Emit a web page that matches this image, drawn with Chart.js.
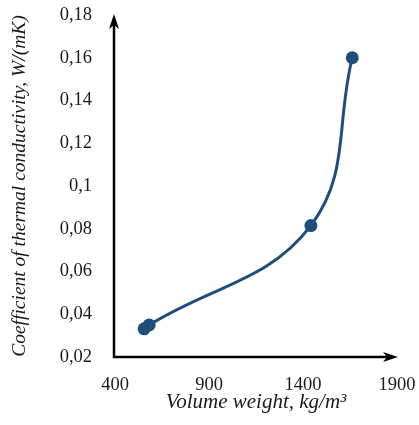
<!DOCTYPE html>
<html>

<head>
  <script src="https://cdn.jsdelivr.net/npm/chart.js@4.4.1/dist/chart.umd.min.js"></script>
  <style>
    body { margin: 0; background: #fff; }
  </style>
</head>

<body>
  <div id="chart" style="position:relative; width:419px; height:425px"></div>
  <script>
    // data
    var volumeWeight = [555, 582, 1442, 1662];
    var conductivity = [0.0332, 0.035, 0.0815, 0.16];
    var xTicks = [400, 900, 1400, 1900];
    var yTicks = [0.02, 0.04, 0.06, 0.08, 0.1, 0.12, 0.14, 0.16, 0.18];

    var blue = '#1f4e79';
    var serif = "'Liberation Serif', 'Times New Roman', serif";

    var points = volumeWeight.map(function (x, i) {
      return { x: x, y: conductivity[i] };
    });

    // black axes with arrow heads
    var arrowAxes = {
      id: 'arrowAxes',
      beforeDatasetsDraw: function (chart) {
        var a = chart.chartArea;
        var c = chart.ctx;
        var x0 = a.left - 1, y0 = a.bottom;
        c.save();
        c.strokeStyle = '#000';
        c.fillStyle = '#000';
        c.lineWidth = 2.5;
        c.beginPath();
        c.moveTo(x0, y0 + 1);
        c.lineTo(x0, a.top + 6);
        c.moveTo(x0 - 1, y0);
        c.lineTo(a.right - 6, y0);
        c.stroke();
        // up arrow
        c.beginPath();
        c.moveTo(x0, a.top - 1);
        c.lineTo(x0 - 5, a.top + 14);
        c.lineTo(x0, a.top + 10);
        c.lineTo(x0 + 5, a.top + 14);
        c.closePath();
        c.fill();
        // right arrow
        c.beginPath();
        c.moveTo(a.right + 1, y0);
        c.lineTo(a.right - 14, y0 - 5);
        c.lineTo(a.right - 10, y0);
        c.lineTo(a.right - 14, y0 + 5);
        c.closePath();
        c.fill();
        c.restore();
      }
    };

    var canvas = document.createElement('canvas');
    document.getElementById("chart").appendChild(canvas);
    var cxt = canvas.getContext('2d');
    var myChart = new Chart(cxt, {
      type: 'line',
      data: {
        datasets: [{
          data: points,
          borderColor: blue,
          backgroundColor: blue,
          borderWidth: 3,
          pointRadius: 6.5,
          pointHoverRadius: 6.5,
          pointBorderWidth: 0,
          tension: 0.4,
          fill: false
        }]
      },
      plugins: [arrowAxes],
      options: {
        responsive: true,
        maintainAspectRatio: false,
        animation: false,
        layout: { padding: { top: 15, right: 22, left: 0, bottom: 0 }, autoPadding: false },
        plugins: {
          legend: { display: false },
          tooltip: { enabled: false }
        },
        scales: {
          x: {
            type: 'linear',
            min: 400,
            max: 1900,
            afterFit: function (s) {
              s.height = 68;
              s.paddingLeft = 0;
              s.paddingRight = 0;
            },
            afterBuildTicks: function (s) {
              s.ticks = xTicks.map(function (v) { return { value: v }; });
            },
            grid: { display: false },
            border: { display: false },
            ticks: {
              color: '#1a1a1a',
              padding: 9,
              maxRotation: 0,
              font: { family: serif, size: 18.5 },
              callback: function (v) { return String(v); }
            },
            title: {
              display: true,
              text: 'Volume weight, kg/m³',
              color: '#1a1a1a',
              padding: { top: 0, bottom: 10 },
              font: { family: serif, size: 21, style: 'italic' }
            }
          },
          y: {
            min: 0.02,
            max: 0.18,
            afterFit: function (s) {
              s.width = 115;
              s.paddingTop = 0;
              s.paddingBottom = 0;
            },
            afterBuildTicks: function (s) {
              s.ticks = yTicks.map(function (v) { return { value: v }; });
            },
            grid: { display: false },
            border: { display: false },
            ticks: {
              color: '#1a1a1a',
              padding: 15,
              font: { family: serif, size: 18.5 },
              callback: function (v) {
                return String(parseFloat(v.toFixed(2))).replace('.', ',');
              }
            },
            title: {
              display: true,
              text: 'Coefficient of thermal conductivity, W/(mK)',
              color: '#1a1a1a',
              padding: { top: 8, bottom: 0 },
              font: { family: serif, size: 19.5, style: 'italic' }
            }
          }
        }
      }
    });
  </script>
</body>

</html>
